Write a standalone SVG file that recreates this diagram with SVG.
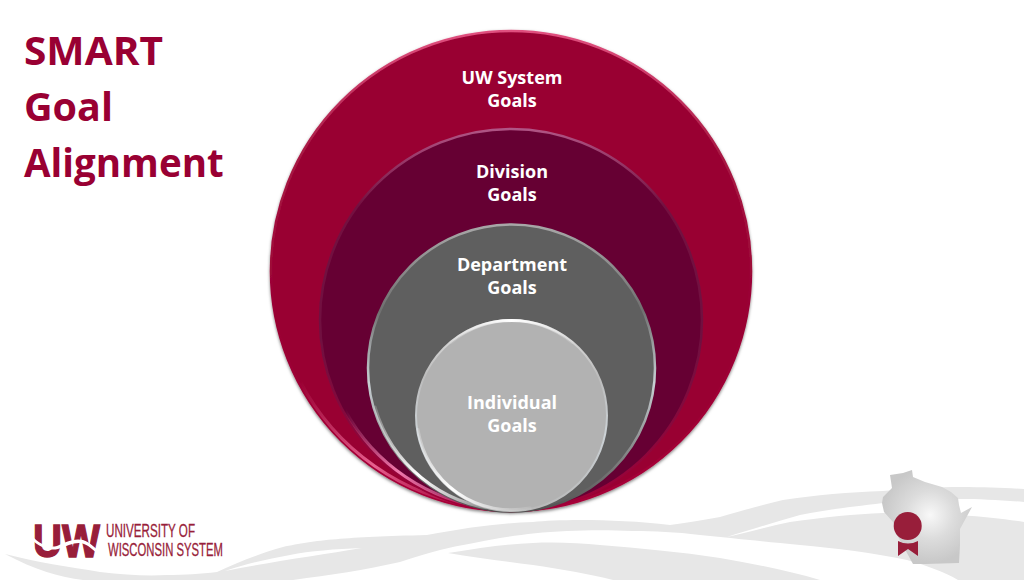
<svg xmlns="http://www.w3.org/2000/svg" width="1024" height="580" viewBox="0 0 1024 580">
<style>
.label{font-family:"Open Sans","Liberation Sans",sans-serif;font-weight:700;font-size:18px;fill:#fff;text-anchor:middle}
.title{font-family:"Open Sans","Liberation Sans",sans-serif;font-weight:700;font-size:38.5px;fill:#990033}
.logo{font-family:"Liberation Sans",sans-serif;fill:#981e3a;stroke:#981e3a}
.swoosh{fill:#e7e7e7}
.hl{fill:none;stroke-width:3;stroke-linecap:round;filter:url(#soft)}
</style>
<defs>
<linearGradient id="bevelOuter" x1="0" y1="0" x2="0" y2="1"><stop offset="0" stop-color="#e0507f"/><stop offset=".25" stop-color="#a81a44"/><stop offset=".6" stop-color="#990033"/><stop offset="1" stop-color="#a80038"/></linearGradient>
<linearGradient id="bevelDiv" x1="0" y1="0" x2="0" y2="1"><stop offset="0" stop-color="#b05585"/><stop offset=".2" stop-color="#741040"/><stop offset=".55" stop-color="#701040"/><stop offset="1" stop-color="#a00038"/></linearGradient>
<linearGradient id="bevelDept" x1="0" y1="0" x2="0" y2="1"><stop offset="0" stop-color="#a8a8a8"/><stop offset=".3" stop-color="#707070"/><stop offset=".55" stop-color="#c8d0d4"/><stop offset=".85" stop-color="#777"/><stop offset="1" stop-color="#505050"/></linearGradient>
<linearGradient id="bevelInd" x1="0" y1="0" x2="0" y2="1"><stop offset="0" stop-color="#e0e0e0"/><stop offset=".3" stop-color="#bcbcbc"/><stop offset=".6" stop-color="#ccd2d6"/><stop offset="1" stop-color="#b8b8b8"/></linearGradient>
<linearGradient id="hlOuter" gradientUnits="userSpaceOnUse" x1="300" y1="381" x2="480" y2="507"><stop offset="0" stop-color="#e8608f" stop-opacity="0"/><stop offset=".5" stop-color="#e8608f"/><stop offset="1" stop-color="#c02058" stop-opacity=".2"/></linearGradient>
<linearGradient id="hlDiv" gradientUnits="userSpaceOnUse" x1="345" y1="410" x2="490" y2="508"><stop offset="0" stop-color="#f078ac" stop-opacity="0"/><stop offset=".45" stop-color="#f078ac"/><stop offset="1" stop-color="#f078ac" stop-opacity=".1"/></linearGradient>
<linearGradient id="hlDept" gradientUnits="userSpaceOnUse" x1="370" y1="400" x2="500" y2="509"><stop offset="0" stop-color="#fff" stop-opacity=".1"/><stop offset=".5" stop-color="#fff"/><stop offset="1" stop-color="#fff" stop-opacity=".2"/></linearGradient>
<linearGradient id="hlInd" gradientUnits="userSpaceOnUse" x1="418" y1="430" x2="530" y2="508"><stop offset="0" stop-color="#fff" stop-opacity=".2"/><stop offset=".45" stop-color="#fff"/><stop offset="1" stop-color="#fff" stop-opacity=".1"/></linearGradient>
<linearGradient id="hlIndTop" gradientUnits="userSpaceOnUse" x1="451" y1="342" x2="572" y2="342"><stop offset="0" stop-color="#fff" stop-opacity=".1"/><stop offset=".5" stop-color="#fff"/><stop offset="1" stop-color="#fff" stop-opacity=".1"/></linearGradient>
<radialGradient id="wi" gradientUnits="userSpaceOnUse" cx="930" cy="515" r="48"><stop offset="0" stop-color="#f8f8f8"/><stop offset=".5" stop-color="#dcdcdc"/><stop offset="1" stop-color="#c8c8c8"/></radialGradient>
<filter id="shadow" x="-5%" y="-5%" width="110%" height="110%"><feDropShadow dx="0" dy="1.5" stdDeviation="1.5" flood-color="#000" flood-opacity=".5"/></filter>
<filter id="soft" x="-10%" y="-10%" width="120%" height="120%"><feGaussianBlur stdDeviation=".6"/></filter>
</defs>
<rect width="1024" height="580" fill="#fff"/>
<g id="background">
<path class="swoosh" d="M5 554C35 562 70 567 100 572C125 575 147 576 167 575C185 575 200 574 217 572C240 561 262 553 283 547C315 540 345 537 427 535C465 528 500 523 533 522C560 519 620 519 670 525C690 522 705 520 720 517C745 510 765 504 783 500C815 495 850 492 883 491C915 488 940 487 960 487C985 487 1005 488 1024 489V502C1000 500 980 499 960 499C930 500 905 501 883 503C850 507 825 510 800 515C775 522 750 530 727 537C750 532 770 526 790 522C825 517 855 514 883 513C915 512 940 513 960 515C985 517 1005 519 1024 522V580H958C945 572 925 565 907 560C875 553 835 548 800 545C760 541 730 538 700 535C675 532 655 531 633 531C610 530 590 530 567 531C540 532 520 535 500 538C480 542 460 545 440 550C425 554 412 558 400 562C365 570 330 575 293 580H83C60 577 35 570 5 554ZM225 571C270 562 320 555 362 548C335 549 310 551 290 555C268 559 245 564 225 571Z" fill-rule="evenodd"/>
<path class="swoosh" d="M448 553C480 548 505 544 533 543C555 542 580 543 600 545C640 548 680 552 720 558C755 564 790 571 820 580H613C590 574 560 569 533 565C505 561 475 558 448 553Z"/>
</g>
<g id="logo">
<text class="logo" x="33" y="556.5" font-size="47" font-weight="700" stroke-width="1.4" textLength="67" lengthAdjust="spacingAndGlyphs">UW</text>
<path d="M31 539C40 548 50 551 58 549C68 546 76 541 84 544C90 546 96 553 101 556L101 553C95 548 90 542 83 540C74 538 66 542 57 546C49 548 40 545 31 535Z" fill="#fff"/>
<text class="logo" x="106" y="537" font-size="18" stroke-width=".3" textLength="89" lengthAdjust="spacingAndGlyphs">UNIVERSITY OF</text>
<text class="logo" x="108" y="556" font-size="18" stroke-width=".3" textLength="115" lengthAdjust="spacingAndGlyphs">WISCONSIN SYSTEM</text>
</g>
<g id="wisconsin">
<path d="M890 475L903 473L912 470L913 477L925 482L942 487L951 492L958 498L959 505L961 513L972 507L966 518L960 529L960 545L959 563L925 564L913 564L907 553L897 535L893 522L884 512L882 503L883 497L892 488Z" fill="url(#wi)"/>
<path d="M898 541Q908 546 918 541V556L908 549L898 556Z" fill="#981e3a"/>
<circle cx="907.7" cy="526" r="14" fill="#981e3a"/>
</g>
<text class="title" x="24" y="65" textLength="139" lengthAdjust="spacingAndGlyphs">SMART</text>
<text class="title" x="24" y="121" textLength="89" lengthAdjust="spacingAndGlyphs">Goal</text>
<text class="title" x="24" y="177">Alignment</text>
<g id="system-goals">
<circle cx="511" cy="271" r="240" fill="#990033" stroke="url(#bevelOuter)" stroke-width="2.5" filter="url(#shadow)"/>
<path class="hl" d="M300 381A238 238 0 0 0 480 507" stroke="url(#hlOuter)"/>
<text class="label" x="512" y="84">UW System</text>
<text class="label" x="512" y="107">Goals</text>
</g>
<g id="division-goals">
<circle cx="511" cy="320" r="191" fill="#660033" stroke="url(#bevelDiv)" stroke-width="2.5"/>
<path class="hl" d="M345 410A189 189 0 0 0 490 508" stroke="url(#hlDiv)"/>
<text class="label" x="512" y="178">Division</text>
<text class="label" x="512" y="201">Goals</text>
</g>
<g id="department-goals">
<circle cx="511.5" cy="368" r="143.5" fill="#5f5f5f" stroke="url(#bevelDept)" stroke-width="2.5"/>
<path class="hl" d="M375 407A142 142 0 0 0 500 509.5" stroke="url(#hlDept)"/>
<text class="label" x="512" y="271">Department</text>
<text class="label" x="512" y="294">Goals</text>
</g>
<g id="individual-goals">
<circle cx="511.5" cy="415.5" r="95.5" fill="#b2b2b2" stroke="url(#bevelInd)" stroke-width="2"/>
<path class="hl" d="M418 429.5A94.5 94.5 0 0 0 530 508" stroke="url(#hlInd)"/>
<path class="hl" d="M451 342.5A94.5 94.5 0 0 1 572 342.5" stroke="url(#hlIndTop)"/>
<text class="label" x="512" y="409">Individual</text>
<text class="label" x="512" y="432">Goals</text>
</g>
</svg>
